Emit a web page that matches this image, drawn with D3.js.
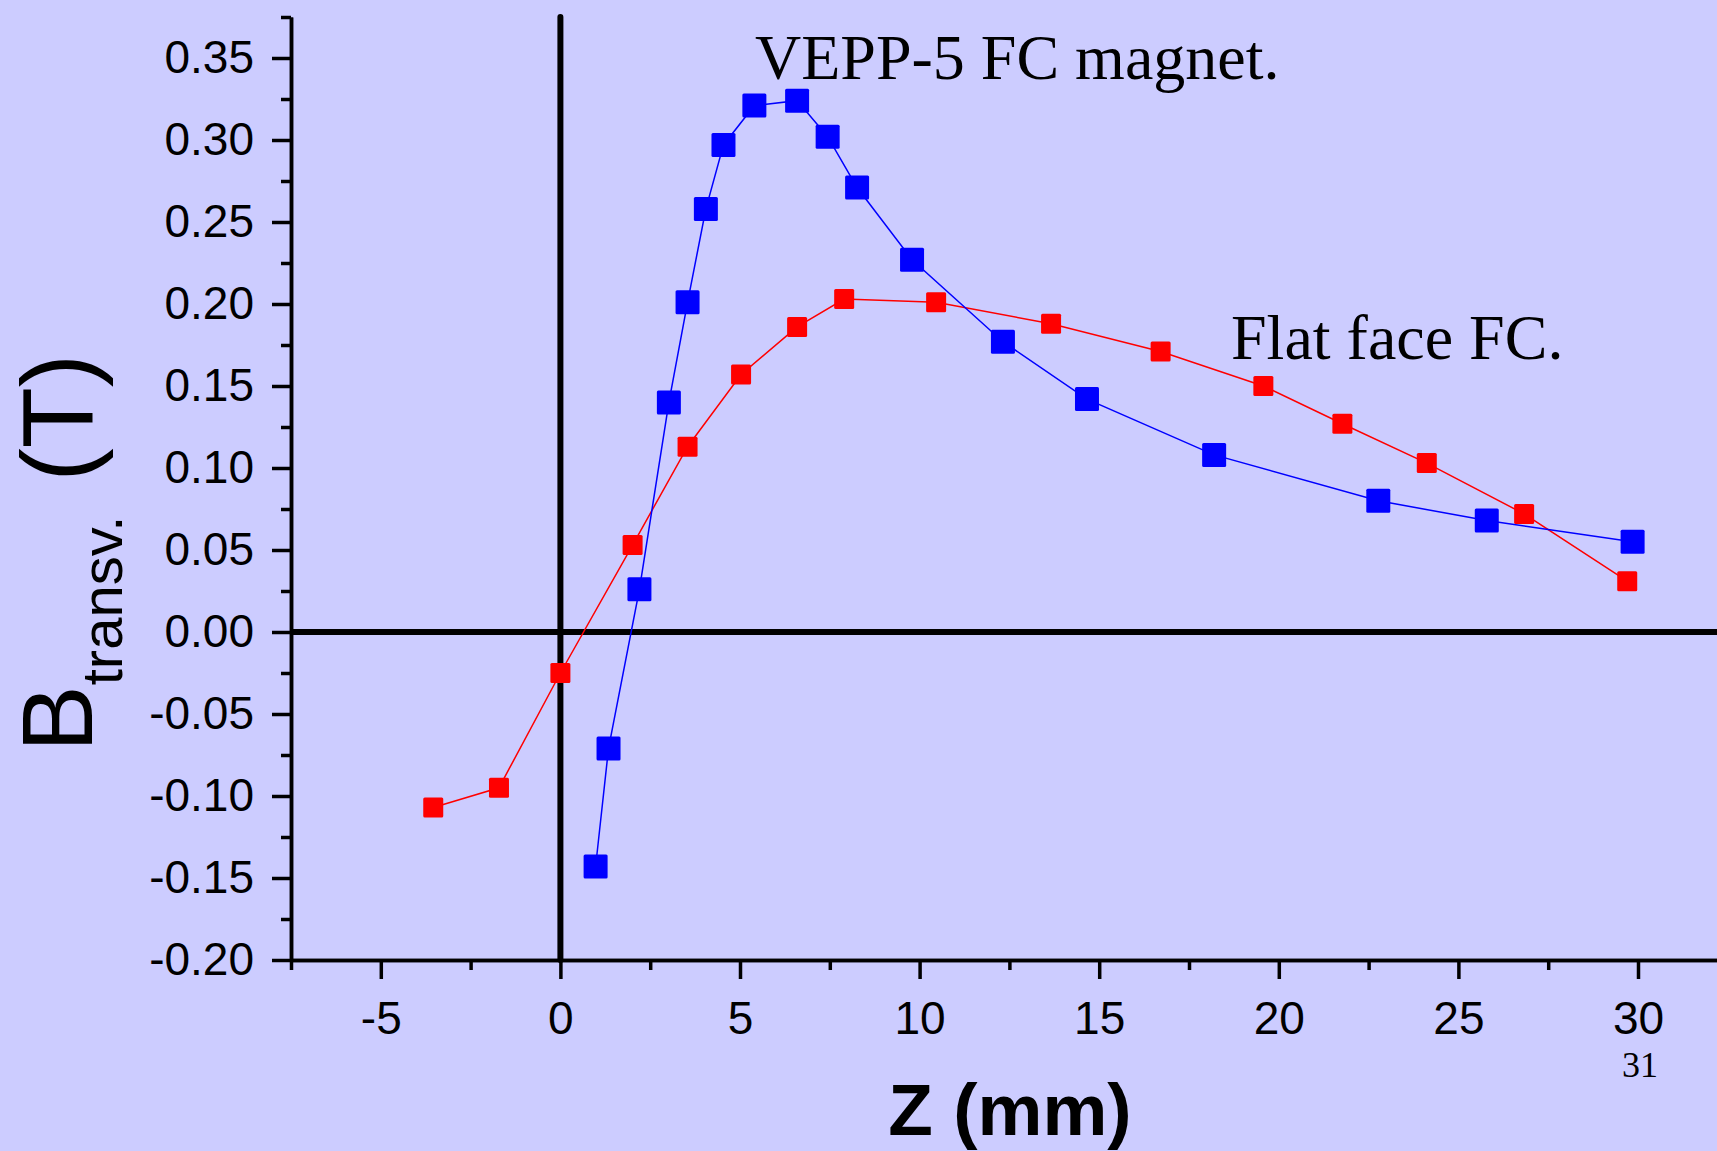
<!DOCTYPE html>
<html>
<head>
<meta charset="utf-8">
<script src="https://cdn.jsdelivr.net/npm/d3@7"></script>
<style>
  body { margin:0; background:#ccccff; overflow:hidden; }
  svg { display:block; }
</style>
</head>
<body>
<div id="container"></div>
<script>
/* CONSTANTS AND GLOBALS */
const width = 1717,
height = 1151,
margin = {top:17, bottom:191, left:291};

/* DATA */
// Flat face FC (red)
const flatZ = [-3.54, -1.71, 0.0, 2.01, 3.54, 5.03, 6.59, 7.90, 10.46, 13.66, 16.71, 19.57, 21.77, 24.12, 26.83, 29.70];
const flatB = [-0.107, -0.095, -0.025, 0.053, 0.113, 0.157, 0.186, 0.203, 0.201, 0.188, 0.171, 0.150, 0.127, 0.103, 0.072, 0.031];
// VEPP-5 FC magnet (blue)
const veppZ = [0.98, 1.34, 2.20, 3.02, 3.54, 4.05, 4.54, 5.40, 6.59, 7.44, 8.26, 9.79, 12.32, 14.66, 18.20, 22.77, 25.79, 29.85];
const veppB = [-0.143, -0.071, 0.026, 0.140, 0.201, 0.258, 0.297, 0.321, 0.324, 0.302, 0.271, 0.227, 0.177, 0.142, 0.108, 0.080, 0.068, 0.055];

const xMajor = [-5, 0, 5, 10, 15, 20, 25, 30];
const xMinor = [-7.5, -2.5, 2.5, 7.5, 12.5, 17.5, 22.5, 27.5, 32.5];
const yMajor = [-0.20, -0.15, -0.10, -0.05, 0.00, 0.05, 0.10, 0.15, 0.20, 0.25, 0.30, 0.35];
const yMinor = [-0.175, -0.125, -0.075, -0.025, 0.025, 0.075, 0.125, 0.175, 0.225, 0.275, 0.325, 0.375];

const flatData = flatZ.map((z, i) => ({z: z, b: flatB[i]}));
const veppData = veppZ.map((z, i) => ({z: z, b: veppB[i]}));

/* SCALES */
const xScale = d3.scaleLinear()
  .domain([-7.5, 32.5])
  .range([margin.left, margin.left + 40 * 35.92]);

const yScale = d3.scaleLinear()
  .domain([-0.2, 0.375])
  .range([height - margin.bottom, margin.top]);

/* HTML ELEMENTS */
const svg = d3.select("#container")
  .append("svg")
  .attr("width", width)
  .attr("height", height);

svg.append("rect")
  .attr("width", width)
  .attr("height", height)
  .attr("fill", "#ccccff");

// minor ticks
svg.append("g")
  .attr("class", "axis")
  .attr("transform", `translate(0, ${yScale(-0.2)})`)
  .call(d3.axisBottom(xScale).tickValues(xMinor).tickSize(10).tickSizeOuter(0).tickFormat(""));

svg.append("g")
  .attr("class", "axis")
  .attr("transform", `translate(${margin.left},0)`)
  .call(d3.axisLeft(yScale).tickValues(yMinor).tickSize(10).tickSizeOuter(0).tickFormat(""));

// major ticks + labels
svg.append("g")
  .attr("class", "axis")
  .attr("transform", `translate(0, ${yScale(-0.2)})`)
  .call(d3.axisBottom(xScale).tickValues(xMajor).tickSize(19).tickSizeOuter(0).tickPadding(22)
    .tickFormat(d => String(d)));

svg.append("g")
  .attr("class", "axis")
  .attr("transform", `translate(${margin.left},0)`)
  .call(d3.axisLeft(yScale).tickValues(yMajor).tickSize(19).tickSizeOuter(0).tickPadding(18)
    .tickFormat(d => d.toFixed(2)));

svg.selectAll(".axis path, .axis line")
  .attr("stroke", "black")
  .attr("stroke-width", 3.5);

svg.selectAll(".axis text")
  .attr("fill", "black")
  .style("font-family", "'Liberation Sans', Arial, sans-serif")
  .style("font-size", "46px");

// zero lines
svg.append("line")
  .attr("x1", xScale(0))
  .attr("x2", xScale(0))
  .attr("y1", yScale(0.375))
  .attr("y2", yScale(-0.2))
  .attr("stroke", "black")
  .attr("stroke-width", 6)
  .attr("stroke-linecap", "round");

svg.append("line")
  .attr("x1", margin.left)
  .attr("x2", width)
  .attr("y1", yScale(0))
  .attr("y2", yScale(0))
  .attr("stroke", "black")
  .attr("stroke-width", 6);

//Draw series
const line = d3.line()
  .x(d => xScale(d.z))
  .y(d => yScale(d.b));

const series = [
  {data: flatData, color: "#ff0000", size: 20},
  {data: veppData, color: "#0000ff", size: 24}
];

series.forEach(s => {
  svg.append("path")
    .datum(s.data)
    .attr("d", line)
    .attr("fill", "none")
    .attr("stroke", s.color)
    .attr("stroke-width", 1.5);

  svg.selectAll(null)
    .data(s.data)
    .join("rect")
    .attr("x", d => xScale(d.z) - s.size / 2)
    .attr("y", d => yScale(d.b) - s.size / 2)
    .attr("width", s.size)
    .attr("height", s.size)
    .attr("rx", 1.5)
    .attr("fill", s.color);
});

//Annotations
svg.append("text")
  .attr("x", 755)
  .attr("y", 79)
  .text("VEPP-5 FC magnet.")
  .style("font-family", "'Liberation Serif', 'Times New Roman', serif")
  .style("font-size", "64px")
  .style("fill", "black");

svg.append("text")
  .attr("x", 1231)
  .attr("y", 359)
  .text("Flat face FC.")
  .style("font-family", "'Liberation Serif', 'Times New Roman', serif")
  .style("font-size", "64px")
  .style("fill", "black");

//X Label
svg.append("text")
  .attr("x", 1010)
  .attr("y", 1135)
  .attr("text-anchor", "middle")
  .text("Z (mm)")
  .style("font-family", "'Liberation Sans', Arial, sans-serif")
  .style("font-weight", "bold")
  .style("font-size", "73px")
  .style("fill", "black");

//Y Label
const yLabel = svg.append("text")
  .attr("transform", "translate(92,752) rotate(-90)")
  .style("font-family", "'Liberation Sans', Arial, sans-serif")
  .style("fill", "black");

yLabel.append("tspan")
  .style("font-size", "100px")
  .text("B");
yLabel.append("tspan")
  .attr("dy", 30)
  .style("font-size", "58px")
  .text("transv.");
yLabel.append("tspan")
  .attr("dy", -30)
  .attr("dx", 34)
  .style("font-size", "100px")
  .text("(T)");

//Page number
svg.append("text")
  .attr("x", 1640)
  .attr("y", 1077)
  .attr("text-anchor", "middle")
  .text("31")
  .style("font-family", "'Liberation Serif', 'Times New Roman', serif")
  .style("font-size", "36px")
  .style("fill", "black");
</script>
</body>
</html>
